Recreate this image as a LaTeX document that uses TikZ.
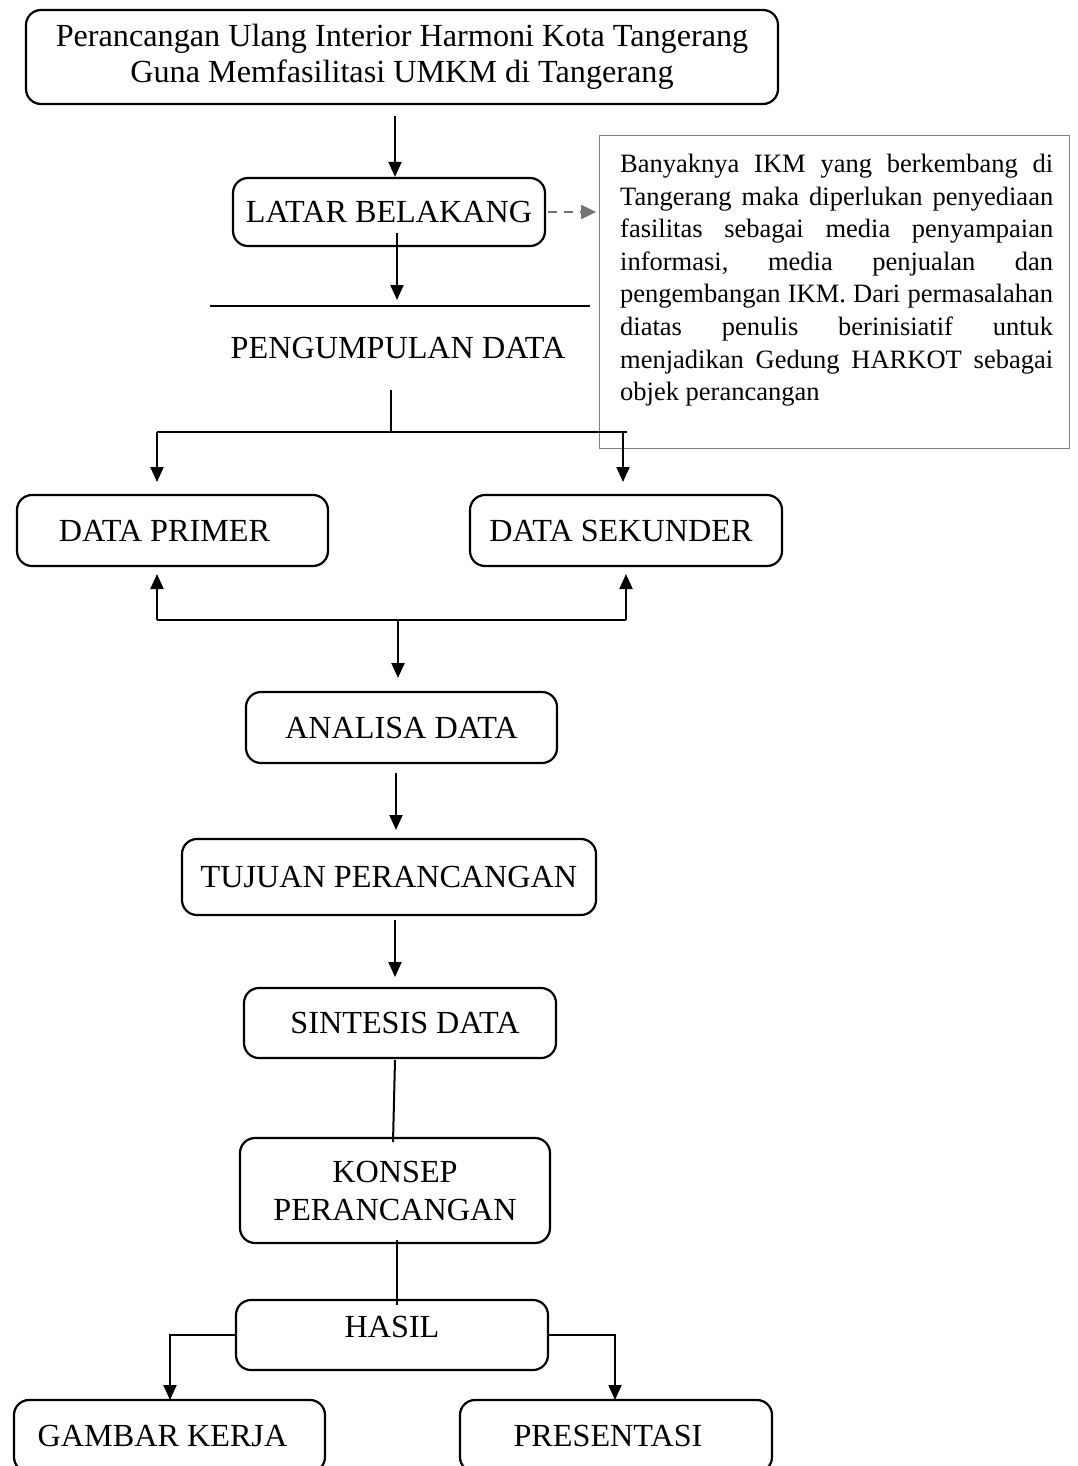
\documentclass[tikz,border=0pt]{standalone}
\usepackage{fontspec}
\setmainfont{Liberation Serif}
\usetikzlibrary{arrows.meta}
\hbadness=10000
\hfuzz=20pt
\begin{document}
\frenchspacing
\begin{tikzpicture}[x=1pt,y=-1pt,
  box/.style={draw, line width=2.2pt, rounded corners=15pt, inner sep=0pt,
    font=\fontsize{32.2}{36}\selectfont, align=center},
  conn/.style={line width=2pt},
  arr/.style={conn, -{Triangle[length=15pt,width=13pt]}},
  plain/.style={inner sep=0pt, font=\fontsize{32.2}{36}\selectfont}
]
\useasboundingbox (0,0) rectangle (1077,1466);
\clip (0,0) rectangle (1077,1466);

% boxes
\node[box, minimum width=752pt, minimum height=94pt] (title) at (402,57)
  {Perancangan Ulang Interior Harmoni Kota Tangerang\\Guna Memfasilitasi UMKM di Tangerang};
\node[box, minimum width=312pt, minimum height=68pt] (latar) at (389,212) {LATAR BELAKANG};
\node[plain] (kumpul) at (398,348) {PENGUMPULAN DATA};
\node[box, minimum width=311pt, minimum height=71pt] (primer) at (172.5,530.5) {DATA PRIMER\hspace*{16pt}};
\node[box, minimum width=312pt, minimum height=71pt] (sekunder) at (626,530.5) {DATA SEKUNDER\hspace*{10pt}};
\node[box, minimum width=311pt, minimum height=71pt] (analisa) at (401.5,727.5) {ANALISA DATA};
\node[box, minimum width=414pt, minimum height=76pt] (tujuan) at (389,877) {TUJUAN PERANCANGAN};
\node[box, minimum width=312pt, minimum height=70pt] (sintesis) at (400,1023) {\hspace*{10pt}SINTESIS DATA};
\node[box, minimum width=310pt, minimum height=105pt, font=\fontsize{32.2}{38}\selectfont] (konsep) at (395,1190.5) {KONSEP\\PERANCANGAN};
\node[box, minimum width=312pt, minimum height=70pt, text depth=16pt] (hasil) at (392,1335) {HASIL};
\node[box, minimum width=311pt, minimum height=72pt] (gambar) at (169.5,1436) {GAMBAR KERJA\hspace*{14pt}};
\node[box, minimum width=312pt, minimum height=72pt] (presentasi) at (616,1436) {PRESENTASI\hspace*{16pt}};

% info box
\node[draw=black!50, line width=1.3pt, minimum width=470pt, minimum height=313pt,
  inner sep=0pt, anchor=north west] (info) at (599,135) {};
\node[inner sep=0pt, anchor=north west, font=\fontsize{26.5}{32.6}\selectfont] (infotext) at (620,154)
{\vbox{\hsize=433pt\baselineskip=32.6pt
\hbox to\hsize{Banyaknya IKM yang berkembang di}
\hbox to\hsize{Tangerang maka diperlukan penyediaan}
\hbox to\hsize{fasilitas sebagai media penyampaian}
\hbox to\hsize{informasi, media penjualan dan}
\hbox to\hsize{pengembangan IKM. Dari permasalahan}
\hbox to\hsize{diatas penulis berinisiatif untuk}
\hbox to\hsize{menjadikan Gedung HARKOT sebagai}
\hbox to\hsize{objek perancangan\hfil}}};

% coordinates
\coordinate (t1) at (395,116);
\coordinate (l1) at (397,233);
\coordinate (l2) at (397,300);
\coordinate (r1) at (210,306);
\coordinate (r2) at (590,306);
\coordinate (p1) at (391,390);
\coordinate (p2) at (391,432);
\coordinate (hl) at (157,432);
\coordinate (hr) at (627,432);
\coordinate (hr2) at (623,432);
\coordinate (dl) at (157,482);
\coordinate (dr) at (623,482);
\coordinate (ul) at (157,620);
\coordinate (ur) at (626,620);
\coordinate (um) at (398,620);
\coordinate (ult) at (157,574);
\coordinate (urt) at (626,574);
\coordinate (umt) at (398,678);
\coordinate (a1) at (396,773);
\coordinate (a2) at (396,830);
\coordinate (s1) at (395,920);
\coordinate (s2) at (395,977);
\coordinate (k1) at (395,1060);
\coordinate (k2) at (393,1142);
\coordinate (h1) at (397,1240);
\coordinate (h2) at (397,1305);
\coordinate (gk) at (170,1400);
\coordinate (pk) at (615,1400);
\coordinate (dt) at (596,212);

% connectors
\draw[arr] (t1) -- (t1 |- latar.north);
\draw[arr] (l1) -- (l2);
\draw[line width=1.5pt] (r1) -- (r2);
\draw[conn] (p1) -- (p2);
\draw[conn] (hl) -- (hr);
\draw[arr] (hl) -- (dl);
\draw[arr] (hr2) -- (dr);
\draw[conn] (ul) -- (ur);
\draw[arr] (ul) -- (ult);
\draw[arr] (ur) -- (urt);
\draw[arr] (um) -- (umt);
\draw[arr] (a1) -- (a2);
\draw[arr] (s1) -- (s2);
\draw[conn] (k1) -- (k2);
\draw[conn] (h1) -- (h2);
\draw[arr] (hasil.west) -| (gk);
\draw[arr] (hasil.east) -| (pk);
\draw[black!55, line width=2.4pt, dash pattern=on 9pt off 7pt,
  -{Triangle[length=15pt,width=14pt]}] (latar.east) ++(2,0) -- (dt);
\end{tikzpicture}
\end{document}
